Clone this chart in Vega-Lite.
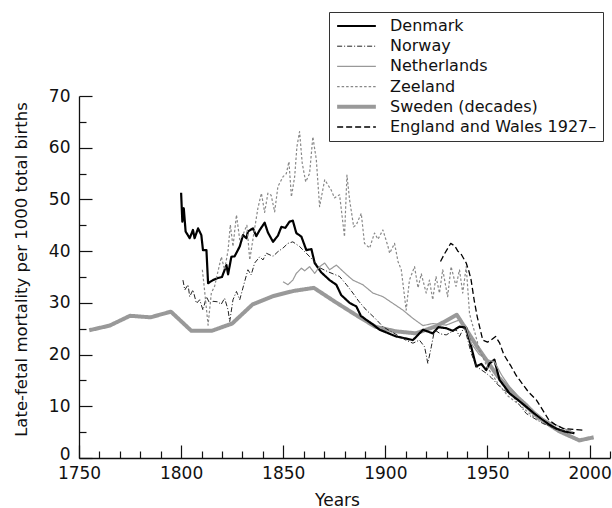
{
  "$schema": "https://vega.github.io/schema/vega-lite/v6.json",
  "width": 531,
  "height": 362,
  "autosize": "none",
  "padding": {"left": 79, "top": 96, "right": 2, "bottom": 50},
  "config": {
    "view": {"stroke": null},
    "font": "DejaVu Sans",
    "axis": {
      "grid": false,
      "labelFlush": false,
      "domainColor": "#111",
      "domainWidth": 1.3,
      "tickColor": "#111",
      "tickWidth": 1.2,
      "labelFont": "DejaVu Sans",
      "labelFontSize": 17,
      "labelColor": "#111",
      "titleFont": "DejaVu Sans",
      "titleFontSize": 17,
      "titleFontWeight": "normal",
      "titleColor": "#111"
    },
    "legend": {
      "orient": "none",
      "legendX": 250,
      "legendY": -84,
      "strokeColor": "#333",
      "fillColor": "white",
      "padding": 6,
      "labelFont": "DejaVu Sans",
      "labelFontSize": 16,
      "labelColor": "#111",
      "labelLimit": 400,
      "symbolType": "M-4.2,0H4.2",
      "symbolSize": 85,
      "symbolOffset": 13.5,
      "labelOffset": 25.5,
      "rowPadding": 4.2,
      "title": null
    }
  },
  "data": {
    "values": [
      {"s":"Sweden (decades)","x":1755,"y":24.7},{"s":"Sweden (decades)","x":1765,"y":25.6},{"s":"Sweden (decades)","x":1775,"y":27.5},{"s":"Sweden (decades)","x":1785,"y":27.2},{"s":"Sweden (decades)","x":1795,"y":28.3},{"s":"Sweden (decades)","x":1805,"y":24.6},{"s":"Sweden (decades)","x":1815,"y":24.6},{"s":"Sweden (decades)","x":1825,"y":26.0},{"s":"Sweden (decades)","x":1835,"y":29.7},{"s":"Sweden (decades)","x":1845,"y":31.3},{"s":"Sweden (decades)","x":1855,"y":32.3},{"s":"Sweden (decades)","x":1865,"y":32.9},{"s":"Sweden (decades)","x":1875,"y":30.3},{"s":"Sweden (decades)","x":1885,"y":27.8},{"s":"Sweden (decades)","x":1895,"y":25.4},{"s":"Sweden (decades)","x":1905,"y":24.5},{"s":"Sweden (decades)","x":1915,"y":24.1},{"s":"Sweden (decades)","x":1925,"y":25.5},{"s":"Sweden (decades)","x":1935,"y":27.7},{"s":"Sweden (decades)","x":1945,"y":21.5},{"s":"Sweden (decades)","x":1955,"y":15.8},{"s":"Sweden (decades)","x":1965,"y":11.5},{"s":"Sweden (decades)","x":1975,"y":7.8},{"s":"Sweden (decades)","x":1985,"y":5.2},{"s":"Sweden (decades)","x":1995,"y":3.4},{"s":"Sweden (decades)","x":2002,"y":4.0},

      {"s":"Denmark","x":1800,"y":51.3},{"s":"Denmark","x":1800.6,"y":45.7},{"s":"Denmark","x":1801.3,"y":48.3},{"s":"Denmark","x":1802.2,"y":43.8},{"s":"Denmark","x":1804.2,"y":42.5},{"s":"Denmark","x":1805.8,"y":44.1},{"s":"Denmark","x":1806.6,"y":42.5},{"s":"Denmark","x":1808.3,"y":44.4},{"s":"Denmark","x":1809.9,"y":43.1},{"s":"Denmark","x":1810.7,"y":40.2},{"s":"Denmark","x":1812.4,"y":40.2},{"s":"Denmark","x":1813.2,"y":33.8},{"s":"Denmark","x":1815.6,"y":34.4},{"s":"Denmark","x":1818,"y":34.8},{"s":"Denmark","x":1820,"y":35},{"s":"Denmark","x":1822.2,"y":37.3},{"s":"Denmark","x":1823,"y":35.5},{"s":"Denmark","x":1824.6,"y":38.9},{"s":"Denmark","x":1826.2,"y":39},{"s":"Denmark","x":1828.7,"y":40.9},{"s":"Denmark","x":1830.3,"y":43.1},{"s":"Denmark","x":1832,"y":42.5},{"s":"Denmark","x":1832.7,"y":43.8},{"s":"Denmark","x":1835.2,"y":44.4},{"s":"Denmark","x":1836.8,"y":42.9},{"s":"Denmark","x":1838.5,"y":44.1},{"s":"Denmark","x":1840.9,"y":45.5},{"s":"Denmark","x":1842.5,"y":43.6},{"s":"Denmark","x":1845,"y":41.8},{"s":"Denmark","x":1847.4,"y":43},{"s":"Denmark","x":1849.1,"y":44.7},{"s":"Denmark","x":1851,"y":44.5},{"s":"Denmark","x":1853.1,"y":45.7},{"s":"Denmark","x":1854.7,"y":45.9},{"s":"Denmark","x":1856.4,"y":43.5},{"s":"Denmark","x":1858.9,"y":42.8},{"s":"Denmark","x":1861.3,"y":40.2},{"s":"Denmark","x":1863.8,"y":40.4},{"s":"Denmark","x":1865.4,"y":37.7},{"s":"Denmark","x":1868.6,"y":35.9},{"s":"Denmark","x":1872.7,"y":34.4},{"s":"Denmark","x":1876,"y":33.5},{"s":"Denmark","x":1878.4,"y":31.5},{"s":"Denmark","x":1882.5,"y":30},{"s":"Denmark","x":1885.8,"y":29.3},{"s":"Denmark","x":1888,"y":27.5},{"s":"Denmark","x":1890.7,"y":26.7},{"s":"Denmark","x":1894,"y":25.8},{"s":"Denmark","x":1897.2,"y":24.8},{"s":"Denmark","x":1901,"y":24.2},{"s":"Denmark","x":1905.3,"y":23.5},{"s":"Denmark","x":1909,"y":23.2},{"s":"Denmark","x":1913.5,"y":22.8},{"s":"Denmark","x":1916,"y":23.8},{"s":"Denmark","x":1918.4,"y":24.8},{"s":"Denmark","x":1923.2,"y":24.1},{"s":"Denmark","x":1926,"y":25.3},{"s":"Denmark","x":1929.8,"y":25.1},{"s":"Denmark","x":1933,"y":24.6},{"s":"Denmark","x":1936.3,"y":25.4},{"s":"Denmark","x":1939.6,"y":25.2},{"s":"Denmark","x":1941.2,"y":22.8},{"s":"Denmark","x":1944.5,"y":17.7},{"s":"Denmark","x":1947,"y":18.2},{"s":"Denmark","x":1949.4,"y":17},{"s":"Denmark","x":1951,"y":18.3},{"s":"Denmark","x":1953.4,"y":19},{"s":"Denmark","x":1955.9,"y":15.1},{"s":"Denmark","x":1958,"y":14},{"s":"Denmark","x":1960.8,"y":12.5},{"s":"Denmark","x":1965,"y":11.2},{"s":"Denmark","x":1969,"y":9.9},{"s":"Denmark","x":1973,"y":8.6},{"s":"Denmark","x":1977.1,"y":7.4},{"s":"Denmark","x":1980,"y":6.5},{"s":"Denmark","x":1983.6,"y":5.7},{"s":"Denmark","x":1988,"y":5.1},{"s":"Denmark","x":1992.6,"y":4.8},

      {"s":"Norway","x":1800.9,"y":34.4},{"s":"Norway","x":1801.8,"y":32.5},{"s":"Norway","x":1803.4,"y":33.5},{"s":"Norway","x":1804.2,"y":31.2},{"s":"Norway","x":1805.8,"y":32.5},{"s":"Norway","x":1807.5,"y":29.9},{"s":"Norway","x":1809.1,"y":30.6},{"s":"Norway","x":1810.7,"y":28.6},{"s":"Norway","x":1812.4,"y":31.2},{"s":"Norway","x":1814,"y":29.9},{"s":"Norway","x":1815.6,"y":30.3},{"s":"Norway","x":1818,"y":30.2},{"s":"Norway","x":1819.6,"y":29.7},{"s":"Norway","x":1821.3,"y":30.9},{"s":"Norway","x":1823,"y":28.6},{"s":"Norway","x":1823.8,"y":26.4},{"s":"Norway","x":1825.4,"y":30.6},{"s":"Norway","x":1827.1,"y":32.2},{"s":"Norway","x":1828.7,"y":30.6},{"s":"Norway","x":1831.1,"y":34.1},{"s":"Norway","x":1832.7,"y":36.4},{"s":"Norway","x":1834.3,"y":35.4},{"s":"Norway","x":1836,"y":37.7},{"s":"Norway","x":1838.5,"y":38.9},{"s":"Norway","x":1840.1,"y":38.3},{"s":"Norway","x":1841.7,"y":39.6},{"s":"Norway","x":1845,"y":39},{"s":"Norway","x":1847.4,"y":39.9},{"s":"Norway","x":1849.9,"y":40.6},{"s":"Norway","x":1852.3,"y":41.5},{"s":"Norway","x":1854.7,"y":41.8},{"s":"Norway","x":1858,"y":40.9},{"s":"Norway","x":1861.3,"y":39.6},{"s":"Norway","x":1864.5,"y":38.3},{"s":"Norway","x":1867.8,"y":36.8},{"s":"Norway","x":1872,"y":36},{"s":"Norway","x":1877.6,"y":35.1},{"s":"Norway","x":1881,"y":33.5},{"s":"Norway","x":1884.1,"y":31.9},{"s":"Norway","x":1887,"y":30.3},{"s":"Norway","x":1890.7,"y":28.6},{"s":"Norway","x":1895,"y":27},{"s":"Norway","x":1898.8,"y":25.4},{"s":"Norway","x":1903,"y":24.4},{"s":"Norway","x":1907,"y":23.5},{"s":"Norway","x":1910,"y":22.8},{"s":"Norway","x":1913.5,"y":22.2},{"s":"Norway","x":1916.7,"y":22.8},{"s":"Norway","x":1919.2,"y":21.5},{"s":"Norway","x":1920.8,"y":18.3},{"s":"Norway","x":1922.5,"y":21.5},{"s":"Norway","x":1924.1,"y":24.8},{"s":"Norway","x":1927,"y":24},{"s":"Norway","x":1929.8,"y":23.8},{"s":"Norway","x":1932,"y":24.3},{"s":"Norway","x":1934.7,"y":24.8},{"s":"Norway","x":1936.3,"y":23.5},{"s":"Norway","x":1938.7,"y":25.4},{"s":"Norway","x":1942,"y":20.3},{"s":"Norway","x":1944.5,"y":17.7},{"s":"Norway","x":1949.4,"y":16.4},{"s":"Norway","x":1952,"y":15.5},{"s":"Norway","x":1956,"y":13.8},{"s":"Norway","x":1962.4,"y":11.9},{"s":"Norway","x":1969,"y":8.6},{"s":"Norway","x":1977,"y":6.7},{"s":"Norway","x":1985.2,"y":5.4},{"s":"Norway","x":1991,"y":5.2},

      {"s":"Netherlands","x":1849.9,"y":34.1},{"s":"Netherlands","x":1852.3,"y":33.5},{"s":"Netherlands","x":1854.7,"y":34.4},{"s":"Netherlands","x":1856.4,"y":35.7},{"s":"Netherlands","x":1858.9,"y":36.7},{"s":"Netherlands","x":1860.5,"y":36.2},{"s":"Netherlands","x":1862.9,"y":37},{"s":"Netherlands","x":1865.4,"y":35.7},{"s":"Netherlands","x":1867.8,"y":37},{"s":"Netherlands","x":1870.3,"y":37.7},{"s":"Netherlands","x":1872.7,"y":36.4},{"s":"Netherlands","x":1876,"y":37.3},{"s":"Netherlands","x":1880.9,"y":35.5},{"s":"Netherlands","x":1884.1,"y":34.4},{"s":"Netherlands","x":1889,"y":33.5},{"s":"Netherlands","x":1893.9,"y":31.9},{"s":"Netherlands","x":1898.8,"y":31.2},{"s":"Netherlands","x":1903.7,"y":29.9},{"s":"Netherlands","x":1908.6,"y":28.6},{"s":"Netherlands","x":1913.5,"y":27},{"s":"Netherlands","x":1918.4,"y":25.6},{"s":"Netherlands","x":1923.2,"y":26},{"s":"Netherlands","x":1929.8,"y":25.7},{"s":"Netherlands","x":1936.3,"y":26.7},{"s":"Netherlands","x":1939.6,"y":25.4},{"s":"Netherlands","x":1942,"y":22.2},{"s":"Netherlands","x":1946,"y":20},{"s":"Netherlands","x":1950,"y":19},{"s":"Netherlands","x":1953.4,"y":18.6},{"s":"Netherlands","x":1957,"y":16},{"s":"Netherlands","x":1960.8,"y":13.8},{"s":"Netherlands","x":1965,"y":12},{"s":"Netherlands","x":1969,"y":10.6},{"s":"Netherlands","x":1973,"y":9},{"s":"Netherlands","x":1977.1,"y":7.7},{"s":"Netherlands","x":1981,"y":6.8},{"s":"Netherlands","x":1985.2,"y":6.1},{"s":"Netherlands","x":1991.7,"y":5},

      {"s":"Zeeland","x":1810.4,"y":36.4},{"s":"Zeeland","x":1811.2,"y":33.5},{"s":"Zeeland","x":1813.2,"y":25.7},{"s":"Zeeland","x":1814.8,"y":31.9},{"s":"Zeeland","x":1816.4,"y":33.2},{"s":"Zeeland","x":1818,"y":36},{"s":"Zeeland","x":1819.7,"y":38.9},{"s":"Zeeland","x":1821.3,"y":36.4},{"s":"Zeeland","x":1823,"y":40.2},{"s":"Zeeland","x":1824.1,"y":45.1},{"s":"Zeeland","x":1825.4,"y":40.9},{"s":"Zeeland","x":1827.1,"y":47},{"s":"Zeeland","x":1828.7,"y":42.2},{"s":"Zeeland","x":1830.3,"y":43.2},{"s":"Zeeland","x":1832.2,"y":45},{"s":"Zeeland","x":1833.6,"y":38.3},{"s":"Zeeland","x":1836,"y":44.4},{"s":"Zeeland","x":1837.6,"y":48.3},{"s":"Zeeland","x":1839.3,"y":51.2},{"s":"Zeeland","x":1840.9,"y":47.5},{"s":"Zeeland","x":1842.5,"y":51.2},{"s":"Zeeland","x":1844.1,"y":50.8},{"s":"Zeeland","x":1845.8,"y":47.6},{"s":"Zeeland","x":1847.4,"y":52.5},{"s":"Zeeland","x":1849.9,"y":54.4},{"s":"Zeeland","x":1851.5,"y":55},{"s":"Zeeland","x":1852.8,"y":57.3},{"s":"Zeeland","x":1854,"y":50.5},{"s":"Zeeland","x":1855.6,"y":54.4},{"s":"Zeeland","x":1856.7,"y":60.2},{"s":"Zeeland","x":1858,"y":63.1},{"s":"Zeeland","x":1859.3,"y":57},{"s":"Zeeland","x":1861,"y":53.4},{"s":"Zeeland","x":1862.9,"y":55},{"s":"Zeeland","x":1864.5,"y":62.1},{"s":"Zeeland","x":1866.2,"y":57.7},{"s":"Zeeland","x":1867.8,"y":48.6},{"s":"Zeeland","x":1870.3,"y":53.8},{"s":"Zeeland","x":1873.5,"y":51.8},{"s":"Zeeland","x":1875.1,"y":50.3},{"s":"Zeeland","x":1877.6,"y":50.9},{"s":"Zeeland","x":1880,"y":42.8},{"s":"Zeeland","x":1881.2,"y":54.7},{"s":"Zeeland","x":1882.5,"y":49.9},{"s":"Zeeland","x":1884.5,"y":44.7},{"s":"Zeeland","x":1885.8,"y":45.1},{"s":"Zeeland","x":1888.2,"y":47.3},{"s":"Zeeland","x":1889.8,"y":41.5},{"s":"Zeeland","x":1892.3,"y":40.6},{"s":"Zeeland","x":1894.7,"y":43.5},{"s":"Zeeland","x":1896.4,"y":42.3},{"s":"Zeeland","x":1898.8,"y":44.1},{"s":"Zeeland","x":1901.3,"y":40.9},{"s":"Zeeland","x":1902.1,"y":39.6},{"s":"Zeeland","x":1904.5,"y":41.5},{"s":"Zeeland","x":1906.2,"y":38},{"s":"Zeeland","x":1907.8,"y":36.4},{"s":"Zeeland","x":1910.2,"y":28.6},{"s":"Zeeland","x":1911.8,"y":34.4},{"s":"Zeeland","x":1914.3,"y":37},{"s":"Zeeland","x":1916,"y":32.9},{"s":"Zeeland","x":1917.6,"y":35.6},{"s":"Zeeland","x":1920,"y":31.9},{"s":"Zeeland","x":1921.6,"y":34.4},{"s":"Zeeland","x":1923.2,"y":30.6},{"s":"Zeeland","x":1924.8,"y":35.1},{"s":"Zeeland","x":1926.5,"y":31.9},{"s":"Zeeland","x":1928.1,"y":36.4},{"s":"Zeeland","x":1930.5,"y":31.2},{"s":"Zeeland","x":1932.2,"y":37},{"s":"Zeeland","x":1934.6,"y":33.2},{"s":"Zeeland","x":1936.3,"y":36.4},{"s":"Zeeland","x":1937.9,"y":31.9},{"s":"Zeeland","x":1939.6,"y":37},{"s":"Zeeland","x":1941.2,"y":28},{"s":"Zeeland","x":1942,"y":26.7},{"s":"Zeeland","x":1944,"y":24},{"s":"Zeeland","x":1946,"y":21},{"s":"Zeeland","x":1950,"y":17.5},{"s":"Zeeland","x":1955,"y":14.5},{"s":"Zeeland","x":1960,"y":12},{"s":"Zeeland","x":1965,"y":10.5},{"s":"Zeeland","x":1970,"y":8.8},{"s":"Zeeland","x":1975,"y":7.2},

      {"s":"England and Wales 1927–","x":1927,"y":38},{"s":"England and Wales 1927–","x":1929,"y":39.5},{"s":"England and Wales 1927–","x":1932,"y":41.5},{"s":"England and Wales 1927–","x":1934,"y":41},{"s":"England and Wales 1927–","x":1935.5,"y":40},{"s":"England and Wales 1927–","x":1937,"y":39.5},{"s":"England and Wales 1927–","x":1939.6,"y":37.7},{"s":"England and Wales 1927–","x":1941,"y":36},{"s":"England and Wales 1927–","x":1942,"y":34.4},{"s":"England and Wales 1927–","x":1943.5,"y":30.5},{"s":"England and Wales 1927–","x":1945,"y":27.3},{"s":"England and Wales 1927–","x":1947.7,"y":22.8},{"s":"England and Wales 1927–","x":1950,"y":22.4},{"s":"England and Wales 1927–","x":1951.8,"y":22.8},{"s":"England and Wales 1927–","x":1954,"y":23.5},{"s":"England and Wales 1927–","x":1956,"y":22.2},{"s":"England and Wales 1927–","x":1958,"y":20},{"s":"England and Wales 1927–","x":1961.6,"y":17.7},{"s":"England and Wales 1927–","x":1964,"y":16},{"s":"England and Wales 1927–","x":1967,"y":14.4},{"s":"England and Wales 1927–","x":1970,"y":12.8},{"s":"England and Wales 1927–","x":1974,"y":11.2},{"s":"England and Wales 1927–","x":1977,"y":9.3},{"s":"England and Wales 1927–","x":1980,"y":7.4},{"s":"England and Wales 1927–","x":1983,"y":6.5},{"s":"England and Wales 1927–","x":1987,"y":5.7},{"s":"England and Wales 1927–","x":1992.5,"y":5.5},{"s":"England and Wales 1927–","x":1996.6,"y":5.4}
    ]
  },
  "layer": [
    {
      "transform": [{"filter": "datum.s === 'Sweden (decades)'"}],
      "mark": {"type": "line", "strokeJoin": "round"},
      "encoding": {
        "x": {"field": "x", "type": "quantitative", "scale": {"domain": [1750, 2010], "nice": false, "zero": false},
              "axis": {"orient": "bottom", "values": [1760,1770,1780,1790,1810,1820,1830,1840,1860,1870,1880,1890,1910,1920,1930,1940,1960,1970,1980,1990,2010], "labels": false, "domain": false, "tickSize": -7, "title": null}},
        "y": {"field": "y", "type": "quantitative", "scale": {"domain": [0, 70], "nice": false},
              "axis": {"orient": "left", "values": [5,15,25,35,45,55,65], "labels": false, "domain": false, "tickSize": -7, "title": null}},
        "color": {"field": "s", "type": "nominal", "sort": null,
                  "scale": {"domain": ["Denmark","Norway","Netherlands","Zeeland","Sweden (decades)","England and Wales 1927–"],
                            "range": ["#000000","#222222","#999999","#888888","#999999","#000000"]}},
        "strokeDash": {"field": "s", "type": "nominal", "sort": null,
                  "scale": {"domain": ["Denmark","Norway","Netherlands","Zeeland","Sweden (decades)","England and Wales 1927–"],
                            "range": [[1,0],[5,2,1,2],[1,0],[2.5,2],[1,0],[6,3]]}},
        "strokeWidth": {"field": "s", "type": "nominal", "sort": null,
                  "scale": {"type": "ordinal", "domain": ["Denmark","Norway","Netherlands","Zeeland","Sweden (decades)","England and Wales 1927–"],
                            "range": [2.2,1,1.2,1.2,4,1.3]}}
      }
    },
    {
      "transform": [{"filter": "datum.s !== 'Sweden (decades)'"}],
      "mark": {"type": "line", "strokeJoin": "round"},
      "encoding": {
        "x": {"field": "x", "type": "quantitative", "scale": {"domain": [1750, 2010], "nice": false, "zero": false},
              "axis": {"orient": "bottom", "values": [1750,1800,1850,1900,1950,2000], "format": "d", "tickSize": -13, "labelPadding": 20.6, "labelBaseline": "top",
                       "title": "Years", "titleX": 258, "titleY": 34, "titleBaseline": "top"}},
        "y": {"field": "y", "type": "quantitative", "scale": {"domain": [0, 70], "nice": false},
              "axis": {"orient": "left", "values": [0,10,20,30,40,50,60,70], "tickSize": -13, "labelPadding": 22, "labelBaseline": "middle",
                       "labelOffset": {"condition": {"test": "datum.value === 0", "value": -4}, "value": 0},
                       "title": "Late-fetal mortality per 1000 total births", "titleFontSize": 16.5, "titleX": -50, "titleY": 173, "titleAngle": -90, "titleBaseline": "bottom"}},
        "color": {"field": "s", "type": "nominal", "sort": null,
                  "scale": {"domain": ["Denmark","Norway","Netherlands","Zeeland","Sweden (decades)","England and Wales 1927–"],
                            "range": ["#000000","#222222","#999999","#888888","#999999","#000000"]}},
        "strokeDash": {"field": "s", "type": "nominal", "sort": null,
                  "scale": {"domain": ["Denmark","Norway","Netherlands","Zeeland","Sweden (decades)","England and Wales 1927–"],
                            "range": [[1,0],[5,2,1,2],[1,0],[2.5,2],[1,0],[6,3]]}},
        "strokeWidth": {"field": "s", "type": "nominal", "sort": null,
                  "scale": {"type": "ordinal", "domain": ["Denmark","Norway","Netherlands","Zeeland","Sweden (decades)","England and Wales 1927–"],
                            "range": [2.2,1,1.2,1.2,4,1.3]}}
      }
    }
  ],
  "resolve": {"axis": {"x": "independent", "y": "independent"}}
}
